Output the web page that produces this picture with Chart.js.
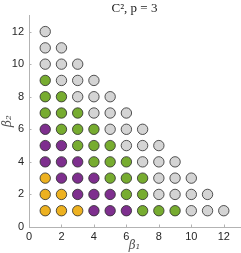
<!DOCTYPE html>
<html>
<head>
<meta charset="utf-8">
<script src="https://cdn.jsdelivr.net/npm/chart.js@4.4.1/dist/chart.umd.min.js"></script>
<style>
html,body{margin:0;padding:0;background:#fff;}
#wrap{width:241px;height:253px;position:relative;}
</style>
</head>
<body>
<div id="wrap"><canvas id="c" width="241" height="253"></canvas></div>
<script>
const titleText = 'C\u00B2, p = 3';
const xLabel = '\u03B2\u2081';
const yLabel = '\u03B2\u2082';
const tickValues = [0, 2, 4, 6, 8, 10, 12];
const axisMin = 0;
const axisMax = 13;

const yellowPoints = [
  {x:1,y:1},{x:2,y:1},{x:3,y:1},
  {x:1,y:2},{x:2,y:2},
  {x:1,y:3}
];
const purplePoints = [
  {x:4,y:1},{x:5,y:1},{x:6,y:1},
  {x:3,y:2},{x:4,y:2},{x:5,y:2},
  {x:2,y:3},{x:3,y:3},{x:4,y:3},
  {x:1,y:4},{x:2,y:4},{x:3,y:4},
  {x:1,y:5},{x:2,y:5},
  {x:1,y:6}
];
const greenPoints = [
  {x:7,y:1},{x:8,y:1},{x:9,y:1},
  {x:6,y:2},{x:7,y:2},
  {x:5,y:3},{x:6,y:3},{x:7,y:3},
  {x:4,y:4},{x:5,y:4},{x:6,y:4},
  {x:3,y:5},{x:4,y:5},{x:5,y:5},
  {x:2,y:6},{x:3,y:6},{x:4,y:6},
  {x:1,y:7},{x:2,y:7},{x:3,y:7},
  {x:1,y:8},{x:2,y:8},
  {x:1,y:9}
];
const grayPoints = [
  {x:10,y:1},{x:11,y:1},{x:12,y:1},
  {x:8,y:2},{x:9,y:2},{x:10,y:2},{x:11,y:2},
  {x:8,y:3},{x:9,y:3},{x:10,y:3},
  {x:7,y:4},{x:8,y:4},{x:9,y:4},
  {x:6,y:5},{x:7,y:5},{x:8,y:5},
  {x:5,y:6},{x:6,y:6},{x:7,y:6},
  {x:4,y:7},{x:5,y:7},{x:6,y:7},
  {x:3,y:8},{x:4,y:8},{x:5,y:8},
  {x:2,y:9},{x:3,y:9},{x:4,y:9},
  {x:1,y:10},{x:2,y:10},{x:3,y:10},
  {x:1,y:11},{x:2,y:11},
  {x:1,y:12}
];

const axisColor = '#b3b3b3';
const edge = '#2a2a2a';

function ds(data, color){
  return {data, backgroundColor: color, borderColor: edge, borderWidth: 0.8,
          pointRadius: 5.2, pointHoverRadius: 5.2, showLine:false};
}

const innerTicks = {
  id:'innerTicks',
  afterDraw(chart){
    const ctx = chart.ctx, a = chart.chartArea;
    const xs = chart.scales.x, ys = chart.scales.y;
    ctx.save();
    ctx.strokeStyle = axisColor; ctx.lineWidth = 1;
    ctx.beginPath();
    xs.ticks.forEach(t=>{ const px = Math.round(xs.getPixelForValue(t.value))+0.5;
      ctx.moveTo(px, a.bottom); ctx.lineTo(px, a.bottom-2.5); });
    ys.ticks.forEach(t=>{ const py = Math.round(ys.getPixelForValue(t.value))+0.5;
      ctx.moveTo(a.left, py); ctx.lineTo(a.left+2.5, py); });
    ctx.stroke();
    ctx.restore();
  }
};

const tickFont = {family:'Liberation Sans, Arial, sans-serif', size:11};
const labelFont = {family:'DejaVu Serif, serif', size:12, style:'italic'};

new Chart(document.getElementById('c'), {
  type:'scatter',
  data:{datasets:[ds(yellowPoints,'#EDB120'), ds(purplePoints,'#7E2F8E'), ds(greenPoints,'#77AC30'), ds(grayPoints,'#D4D4D4')]},
  options:{
    responsive:false, animation:false, devicePixelRatio:1,
    layout:{autoPadding:false, padding:{left:0,right:1,top:0,bottom:0}},
    plugins:{
      legend:{display:false}, tooltip:{enabled:false},
      title:{display:true, text:titleText, fullSize:false, color:'#222',
             font:{family:'Liberation Serif, serif', size:13, weight:'normal', lineHeight:1.1},
             padding:{top:1,bottom:0}}
    },
    scales:{
      x:{type:'linear', min:axisMin, max:axisMax,
         afterBuildTicks(s){ s.ticks = tickValues.map(v=>({value:v})); },
         afterFit(s){ s.height = 26; },
         grid:{display:false, drawTicks:false},
         border:{display:true, color:axisColor, width:1},
         ticks:{font:tickFont, color:'#262626', padding:3, maxRotation:0},
         title:{display:true, text:xLabel, font:labelFont, color:'#555', padding:{top:0,bottom:0}}
      },
      y:{type:'linear', min:axisMin, max:axisMax,
         afterBuildTicks(s){ s.ticks = tickValues.map(v=>({value:v})); },
         afterFit(s){ s.width = 29; },
         grid:{display:false, drawTicks:false},
         border:{display:true, color:axisColor, width:1},
         ticks:{font:tickFont, color:'#262626', padding:5},
         title:{display:true, text:yLabel, font:labelFont, color:'#555', padding:{top:1,bottom:0}}
      }
    }
  },
  plugins:[innerTicks]
});
</script>
</body>
</html>
